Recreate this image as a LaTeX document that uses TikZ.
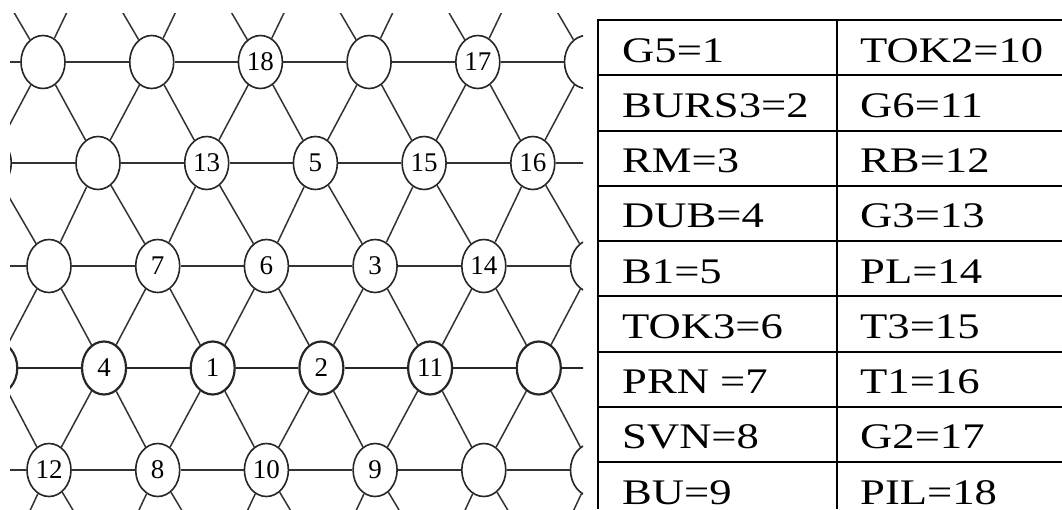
\documentclass[tikz,border=0pt]{standalone}
\usepackage{fontspec}
\setmainfont{Liberation Serif}
\newfontfamily\tabfont[FakeStretch=1.24]{Liberation Serif}
\usetikzlibrary{shapes.geometric}
\def\setlbl#1#2#3{\expandafter\def\csname L-#1-#2\endcsname{#3}}
\setlbl{1}{3}{18}\setlbl{1}{5}{17}
\setlbl{2}{2}{13}\setlbl{2}{3}{5}\setlbl{2}{4}{15}\setlbl{2}{5}{16}
\setlbl{3}{2}{7}\setlbl{3}{3}{6}\setlbl{3}{4}{3}\setlbl{3}{5}{14}
\setlbl{4}{1}{4}\setlbl{4}{2}{1}\setlbl{4}{3}{2}\setlbl{4}{4}{11}
\setlbl{5}{1}{12}\setlbl{5}{2}{8}\setlbl{5}{3}{10}\setlbl{5}{4}{9}
\begin{document}
\begin{tikzpicture}[x=1pt,y=-1pt,
  cell/.style={ellipse,draw=black!85,line width=1.6pt,minimum width=44pt,minimum height=53pt,inner sep=0pt,fill=white,font=\fontsize{27}{27}\selectfont},
  boldcell/.style={cell,line width=2.2pt},
  link/.style={draw=black!80,line width=1.5pt},
  boldlink/.style={draw=black!85,line width=2.2pt},
  rule/.style={draw=black,line width=2pt},
  vrule/.style={draw=black,line width=1.5pt},
  entry/.style={anchor=base west,inner sep=0pt,font=\tabfont\fontsize{36}{36}\selectfont}]
\useasboundingbox[fill=white] (0,0) rectangle (1062,509);
\begin{scope}
\clip (10,13) rectangle (583,509);
\foreach \r/\yy/\xo in {0/-40/92,1/62/43,2/163/98,3/266/49,5/470/49,6/572/110}{
  \foreach \c in {0,...,6}{
    \node[cell] (n\r-\c) at ({\xo+108.7*(\c-1)},\yy) {\csname L-\r-\c\endcsname};
  }
}
\foreach \c in {0,...,6}{
  \node[boldcell] (n4-\c) at ({104+108.7*(\c-1)},368) {\csname L-4-\c\endcsname};
}
% horizontal links
\foreach \r in {0,1,2,3,5,6}{
  \foreach \c [evaluate=\c as \cn using int(\c+1)] in {0,...,5}{
    \draw[link] (n\r-\c) -- (n\r-\cn);
  }
}
\foreach \c [evaluate=\c as \cn using int(\c+1)] in {0,...,5}{
  \draw[boldlink] (n4-\c) -- (n4-\cn);
}
% diagonal links, odd rows
\foreach \r [evaluate=\r as \rn using int(\r+1)] in {1,3,5}{
  \foreach \c in {0,...,6}{ \draw[link] (n\r-\c) -- (n\rn-\c); }
  \foreach \c [evaluate=\c as \cm using int(\c-1)] in {1,...,6}{ \draw[link] (n\r-\c) -- (n\rn-\cm); }
}
% diagonal links, even rows
\foreach \r [evaluate=\r as \rn using int(\r+1)] in {0,2,4}{
  \foreach \c in {0,...,6}{ \draw[link] (n\r-\c) -- (n\rn-\c); }
  \foreach \c [evaluate=\c as \cn using int(\c+1)] in {0,...,5}{ \draw[link] (n\r-\c) -- (n\rn-\cn); }
}
\end{scope}
% table
\foreach \k in {0,...,8}{
  \draw[rule] (598,{20+55.25*\k}) -- (1062,{20+55.25*\k});
}
\draw[vrule] (598,19) -- (598,509);
\draw[vrule] (837,19) -- (837,509);
\foreach \k/\a/\b in {1/G5=1/TOK2=10,2/BURS3=2/G6=11,3/RM=3/RB=12,4/DUB=4/G3=13,5/B1=5/PL=14,6/TOK3=6/T3=15,7/PRN =7/T1=16,8/SVN=8/G2=17,9/BU=9/PIL=18}{
  \node[entry] (a\k) at (622,{20+55.25*(\k-1)+42}) {\a};
  \node[entry] (b\k) at (860,{20+55.25*(\k-1)+42}) {\b};
}
\end{tikzpicture}
\end{document}
